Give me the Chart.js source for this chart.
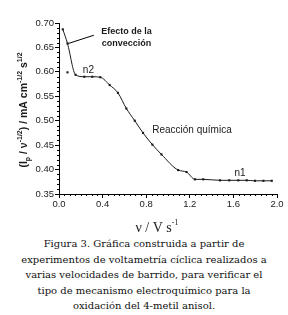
<!DOCTYPE html>
<html><head><meta charset="utf-8">
<script src="https://cdn.jsdelivr.net/npm/chart.js@4"></script>
<style>
html,body{margin:0;padding:0;background:#fff;}
#wrap{position:relative;width:288px;height:236px;}
#cap{width:288px;text-align:center;font-family:"DejaVu Serif",serif;font-size:10px;line-height:15.5px;color:#111;white-space:nowrap;}
</style></head><body>
<div id="wrap"><canvas id="c" width="288" height="236"></canvas></div>
<div id="cap">Figura 3. Gráfica construida a partir de<br>experimentos de voltametría cíclica realizados a<br>varias velocidades de barrido, para verificar el<br>tipo de mecanismo electroquímico para la<br>oxidación del 4-metil anisol.</div>
<script>
// velocidad de barrido (V/s) y corriente normalizada
const velocidad = [0.035,0.078,0.152,0.232,0.305,0.379,0.465,0.541,0.618,0.695,0.771,0.857,0.940,1.093,1.170,1.247,1.323,1.477,1.562,1.645,1.722,1.798,1.875,1.952];
const corriente = [0.687,0.658,0.594,0.590,0.590,0.589,0.573,0.557,0.525,0.500,0.475,0.451,0.431,0.399,0.395,0.380,0.380,0.378,0.378,0.378,0.378,0.377,0.377,0.377];
const velocidadAislada = [0.078];
const corrienteAislada = [0.599];
const yTicks = [0.35,0.40,0.45,0.50,0.55,0.60,0.65,0.70];
const xTicks = [0.0,0.4,0.8,1.2,1.6,2.0];
const etiquetas = [
  {text:'Efecto de la', x:0.62, y:0.682},
  {text:'convección', x:0.62, y:0.659},
  {text:'n2', x:0.27, y:0.604},
  {text:'Reacción química', x:1.22, y:0.481},
  {text:'n1', x:1.66, y:0.393}
];

const ink = '#1a1a1a';
const sans = "'Liberation Sans', Arial, sans-serif";
const serifX = "'Liberation Serif', serif";

const extras = {
  id:'extras',
  afterDraw(chart){
    const ctx = chart.ctx, xs = chart.scales.x, ys = chart.scales.y;
    const ca = chart.chartArea;
    ctx.save();
    ctx.strokeStyle = '#000'; ctx.lineWidth = 1;
    // minor ticks
    ctx.beginPath();
    for (let i=0;i<=40;i++){ const v=i*0.05; if (i%8===0) continue;
      const px=Math.round(xs.getPixelForValue(v))+0.5;
      ctx.moveTo(px,ca.bottom); ctx.lineTo(px,ca.bottom+2); }
    for (let i=0;i<=35;i++){ const v=0.35+i*0.01; if (i%5===0) continue;
      const py=Math.round(ys.getPixelForValue(v))+0.5;
      ctx.moveTo(ca.left-2,py); ctx.lineTo(ca.left,py); }
    ctx.stroke();
    // pointer for convection
    ctx.beginPath();
    ctx.moveTo(xs.getPixelForValue(0.085), ys.getPixelForValue(0.658));
    ctx.lineTo(xs.getPixelForValue(0.32), ys.getPixelForValue(0.675));
    ctx.stroke();
    // annotations
    ctx.fillStyle = ink; ctx.textAlign='center'; ctx.textBaseline='middle';
    etiquetas.forEach((e,i)=>{
      ctx.font = i<2 ? "bold 9px "+sans : "10px "+sans;
      ctx.fillText(e.text, xs.getPixelForValue(e.x), ys.getPixelForValue(e.y));
    });
    // x title
    ctx.textBaseline='alphabetic';
    ctx.font = "14px "+serifX;
    const t1='ν / V s';
    const w1=ctx.measureText(t1).width;
    ctx.font = "8px "+serifX;
    const w2=ctx.measureText('-1').width;
    let sx = 157-(w1+w2)/2;
    ctx.textAlign='left';
    ctx.font = "14px "+serifX;
    ctx.fillText(t1, sx, 232);
    ctx.font = "8px "+serifX;
    ctx.fillText('-1', sx+w1, 225);
    // y title
    const parts = [['(I','n'],['p','sub'],[' / ν','n'],['-1/2','sup'],[') / mA cm','n'],['-1/2','sup'],[' s','n'],['1/2','sup']];
    const fN = "bold 10.5px "+sans, fS = "bold 7px "+sans;
    let total=0;
    parts.forEach(p=>{ctx.font=p[1]==='n'?fN:fS; total+=ctx.measureText(p[0]).width;});
    ctx.translate(27,110); ctx.rotate(-Math.PI/2);
    let cx=-total/2;
    parts.forEach(p=>{
      ctx.font=p[1]==='n'?fN:fS;
      const dy = p[1]==='sub'?2.5:(p[1]==='sup'?-5:0);
      ctx.fillText(p[0],cx,dy);
      cx+=ctx.measureText(p[0]).width;
    });
    ctx.restore();
  }
};

new Chart(document.getElementById('c'),{
  type:'scatter',
  data:{datasets:[
    {data:velocidad.map((v,i)=>({x:v,y:corriente[i]})), showLine:true, borderColor:ink, borderWidth:1,
     cubicInterpolationMode:'monotone', pointStyle:'rect', pointRadius:1.5, pointBackgroundColor:ink, pointBorderColor:ink, pointBorderWidth:0},
    {data:velocidadAislada.map((v,i)=>({x:v,y:corrienteAislada[i]})), showLine:false,
     pointStyle:'rect', pointRadius:1.5, pointBackgroundColor:ink, pointBorderColor:ink, pointBorderWidth:0}
  ]},
  options:{
    responsive:false, animation:false, devicePixelRatio:1,
    layout:{padding:{top:23,right:11,left:0,bottom:0}},
    plugins:{legend:{display:false},tooltip:{enabled:false}},
    scales:{
      x:{type:'linear',min:0,max:2.0,
        afterBuildTicks:s=>{s.ticks=xTicks.map(v=>({value:v}));},
        afterFit:s=>{s.height=42;},
        ticks:{callback:v=>v.toFixed(1),font:{family:sans,size:9.5},color:'#222',padding:1,autoSkip:false,maxRotation:0},
        grid:{drawOnChartArea:false,tickLength:4,tickColor:'#000'},
        border:{color:'#000',width:1}},
      y:{type:'linear',min:0.35,max:0.70,
        afterBuildTicks:s=>{s.ticks=yTicks.map(v=>({value:v}));},
        afterFit:s=>{s.width=59;},
        ticks:{callback:v=>v.toFixed(2),font:{family:sans,size:9.5},color:'#222',padding:1,autoSkip:false},
        grid:{drawOnChartArea:false,tickLength:4,tickColor:'#000'},
        border:{color:'#000',width:1}}
    }
  },
  plugins:[extras]
});
</script>
</body></html>
